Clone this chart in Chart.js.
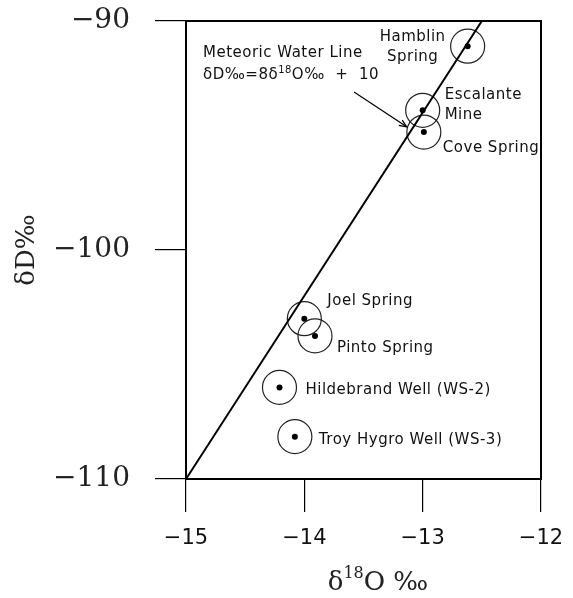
<!DOCTYPE html>
<html><head><meta charset="utf-8">
<script src="https://cdn.jsdelivr.net/npm/chart.js@4/dist/chart.umd.min.js"></script>
<style>html,body{margin:0;padding:0;background:#fff}#wrap{width:573px;height:598px}</style>
</head><body><div id="wrap"><canvas id="c" width="573" height="598"></canvas></div>
<script>
// ---- data ----
const siteNames = [["Hamblin","Spring"],["Escalante","Mine"],["Cove Spring"],["Joel Spring"],["Pinto Spring"],["Hildebrand Well (WS-2)"],["Troy Hygro Well (WS-3)"]];
const d18O = [-12.62, -13.0, -12.99, -14.0, -13.91, -14.21, -14.08];
const dD   = [-91.1, -93.9, -94.85, -103.0, -103.75, -106.0, -108.15];
const xTicks = [-15, -14, -13, -12];
const yTicks = [-110, -100, -90];
const mwlX = [-15, -12.5];
const mwlY = [-110, -90];
const mwlTitle = "Meteoric Water Line";

// ---- layout / style (not data) ----
const labelLayout = [
  {dx:-55, dy:-9, align:'center'},
  {dx:22, dy:-15, align:'left'},
  {dx:19, dy:16, align:'left'},
  {dx:23, dy:-18, align:'left'},
  {dx:22, dy:12, align:'left'},
  {dx:26, dy:3, align:'left'},
  {dx:24, dy:3, align:'left'}
];
const arrowFrom = [-13.58, -93.1], arrowTo = [-13.135, -94.62];

const pts = d18O.map((v,i)=>({x:v, y:dD[i]}));

const overlay = {
  id:'overlay',
  afterDatasetsDraw(chart){
    const {ctx, chartArea:a, scales:{x,y}} = chart;
    ctx.save();
    ctx.strokeStyle='#000'; ctx.lineWidth=2;
    ctx.strokeRect(a.left, a.top, a.right-a.left, a.bottom-a.top);
    // point labels
    ctx.fillStyle='#111';
    ctx.font='15px "DejaVu Sans"';
    ctx.letterSpacing='0.5px';
    ctx.textBaseline='middle';
    siteNames.forEach((lines,i)=>{
      const px=x.getPixelForValue(d18O[i]), py=y.getPixelForValue(dD[i]);
      const L=labelLayout[i];
      ctx.textAlign=L.align;
      lines.forEach((t,j)=>ctx.fillText(t, px+L.dx, py+L.dy+j*20));
    });
    // MWL annotation
    ctx.textAlign='left';
    const tx=a.left+17;
    ctx.fillText(mwlTitle, tx, a.top+32);
    let cx=tx; const ey=a.top+54;
    const seg=(t,font,dy)=>{ctx.font=font; ctx.fillText(t,cx,ey+dy); cx+=ctx.measureText(t).width;};
    seg('δD‰=8δ','15px "DejaVu Sans"',0);
    seg('18','10px "DejaVu Sans"',-5);
    seg('O‰  +  10','15px "DejaVu Sans"',0);
    // arrow
    const x1=x.getPixelForValue(arrowFrom[0]), y1=y.getPixelForValue(arrowFrom[1]);
    const x2=x.getPixelForValue(arrowTo[0]), y2=y.getPixelForValue(arrowTo[1]);
    ctx.lineWidth=1.2;
    ctx.beginPath(); ctx.moveTo(x1,y1); ctx.lineTo(x2,y2); ctx.stroke();
    const ang=Math.atan2(y2-y1,x2-x1), h=8;
    ctx.beginPath();
    ctx.moveTo(x2-h*Math.cos(ang-0.4), y2-h*Math.sin(ang-0.4));
    ctx.lineTo(x2,y2);
    ctx.lineTo(x2-h*Math.cos(ang+0.4), y2-h*Math.sin(ang+0.4));
    ctx.stroke();
    // x title
    ctx.letterSpacing='0px';
    ctx.fillStyle='#222';
    const parts=[['δ','26px "DejaVu Serif"',0],['18','16px "DejaVu Serif"',-9],['O ‰','26px "DejaVu Serif"',0]];
    let w=0; parts.forEach(p=>{ctx.font=p[1]; w+=ctx.measureText(p[0]).width;});
    cx=378-w/2;
    parts.forEach(p=>{ctx.font=p[1]; ctx.fillText(p[0],cx,583+p[2]); cx+=ctx.measureText(p[0]).width;});
    ctx.restore();
  }
};

new Chart(document.getElementById('c'), {
  type:'scatter',
  data:{datasets:[
    {type:'line', data:mwlX.map((v,i)=>({x:v,y:mwlY[i]})), borderColor:'#000', borderWidth:2, pointRadius:0, fill:false, tension:0},
    {data:pts, pointRadius:17, pointBorderWidth:1.2, pointBorderColor:'#222', pointBackgroundColor:'rgba(0,0,0,0)'},
    {data:pts, pointRadius:3, pointBorderWidth:0, pointBackgroundColor:'#000'}
  ]},
  options:{
    responsive:false, animation:false, devicePixelRatio:1,
    layout:{padding:{left:0,right:32,top:21,bottom:0}},
    plugins:{legend:{display:false}, tooltip:{enabled:false}},
    scales:{
      x:{type:'linear', min:-15, max:-12,
        afterBuildTicks:s=>{s.ticks=xTicks.map(v=>({value:v}));},
        afterFit:s=>{s.height=119; s.paddingLeft=0; s.paddingRight=0;},
        border:{display:false},
        grid:{drawOnChartArea:false, drawTicks:true, tickLength:33, color:'#000', lineWidth:1.2},
        ticks:{padding:14, color:'#111', font:{family:'DejaVu Sans', size:21}, callback:v=>String(v).replace('-','−'), maxRotation:0}
      },
      y:{type:'linear', min:-110, max:-90,
        afterBuildTicks:s=>{s.ticks=yTicks.map(v=>({value:v}));},
        afterFit:s=>{s.width=186; s.paddingTop=0; s.paddingBottom=0;},
        border:{display:false},
        grid:{drawOnChartArea:false, drawTicks:true, tickLength:31, color:'#000', lineWidth:1.2},
        ticks:{padding:25, color:'#222', font:{family:'DejaVu Serif', size:28}, callback:v=>String(v).replace('-','−')},
        title:{display:true, text:'δD‰', color:'#222', font:{family:'DejaVu Serif', size:26}, padding:{top:12,bottom:0}}
      }
    }
  },
  plugins:[overlay]
});
</script>
</body></html>
